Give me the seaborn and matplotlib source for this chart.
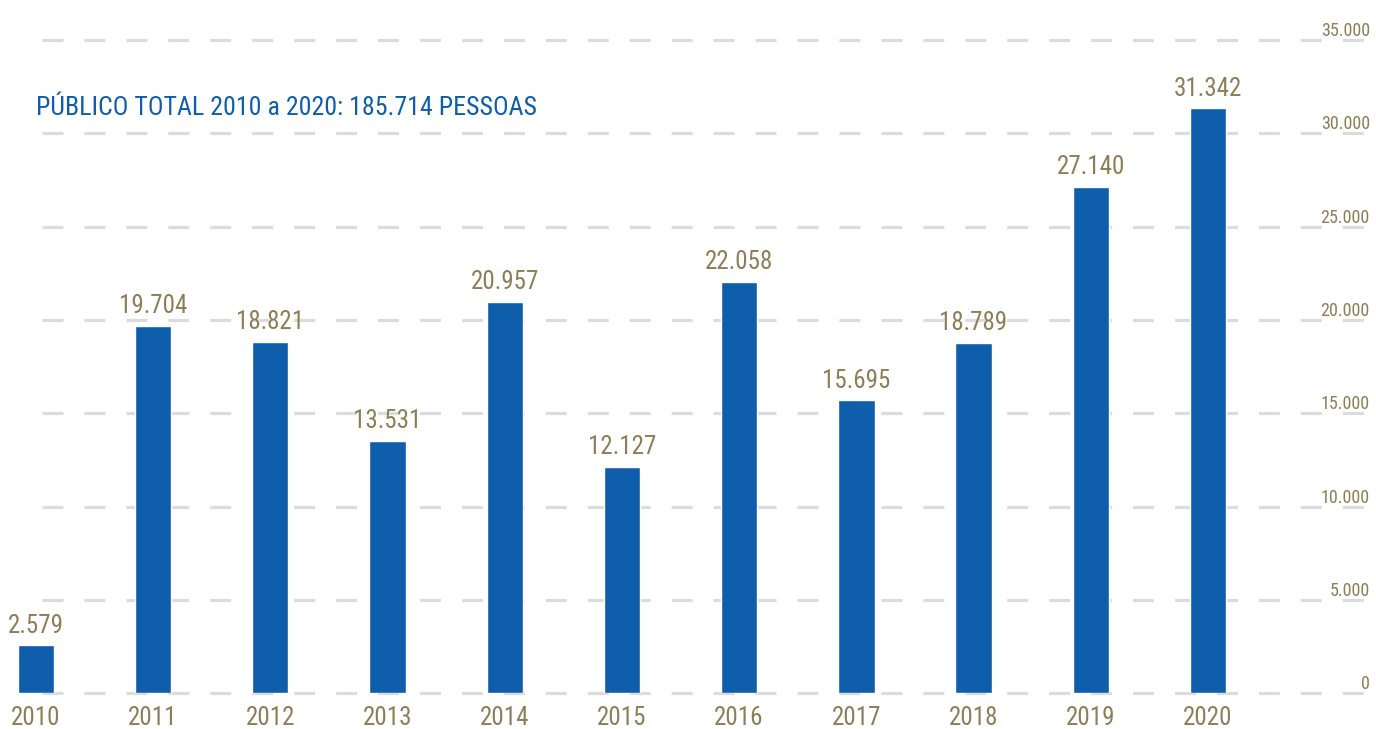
import matplotlib
matplotlib.use("Agg")
import matplotlib.pyplot as plt
import seaborn as sns
import pandas as pd

years = ["2010", "2011", "2012", "2013", "2014", "2015", "2016", "2017", "2018", "2019", "2020"]
publico = [2579, 19704, 18821, 13531, 20957, 12127, 22058, 15695, 18789, 27140, 31342]
y_ticks = [0, 5000, 10000, 15000, 20000, 25000, 30000, 35000]
title_text = "PÚBLICO TOTAL 2010 a 2020: 185.714 PESSOAS"

def fmt(v):
    return f"{v:,}".replace(",", ".")

sns.set_theme(style="white")
plt.rcParams["font.family"] = ["Roboto Condensed", "Barlow Condensed", "DejaVu Sans"]
plt.rcParams["lines.scale_dashes"] = False

BLUE = "#0F5EAB"
OLIVE = "#8C7E56"
GRID = "#DCDCDC"

W, H = 1376, 729
fig = plt.figure(figsize=(W / 100, H / 100), dpi=100)
y0_px = 693.3
px_per_unit = 653.3 / 35000
ytop = 36500
ax_bottom = (H - y0_px) / H
ax_height = ytop * px_per_unit / H
ax = fig.add_axes([0, ax_bottom, 1, ax_height])

df = pd.DataFrame({"ano": years, "publico": publico})
sns.barplot(data=df, x="ano", y="publico", color=BLUE, width=0.31,
            saturation=1, ax=ax, zorder=3)

spacing = 117.22
c0 = 35.8
ax.set_xlim(-c0 / spacing, (W - c0) / spacing)
ax.set_ylim(0, ytop)

for t in y_ticks:
    ax.axhline(t, xmin=42 / W, xmax=1370 / W, color=GRID, lw=2.3,
               dashes=(15.1, 15.1), zorder=1, clip_on=False)

ax.bar_label(ax.containers[0], labels=[fmt(v) for v in publico],
             padding=5.5, color=OLIVE, fontsize=18)

ax.set_xlabel("")
ax.set_ylabel("")
ax.tick_params(axis="x", length=0, pad=8.8, labelsize=18, labelcolor=OLIVE)
ax.yaxis.tick_right()
ax.set_yticks(y_ticks)
ax.set_yticklabels([fmt(t) for t in y_ticks])
ax.tick_params(axis="y", length=0, pad=-4.5, labelsize=13, labelcolor=OLIVE)
for lab in ax.get_yticklabels():
    lab.set_ha("right")
    lab.set_va("bottom")
for s in ax.spines.values():
    s.set_visible(False)

fig.text(36 / W, 1 - 108 / H, title_text, color=BLUE, fontsize=18.6,
         ha="left", va="center")

fig.savefig("out.png", dpi=100)
